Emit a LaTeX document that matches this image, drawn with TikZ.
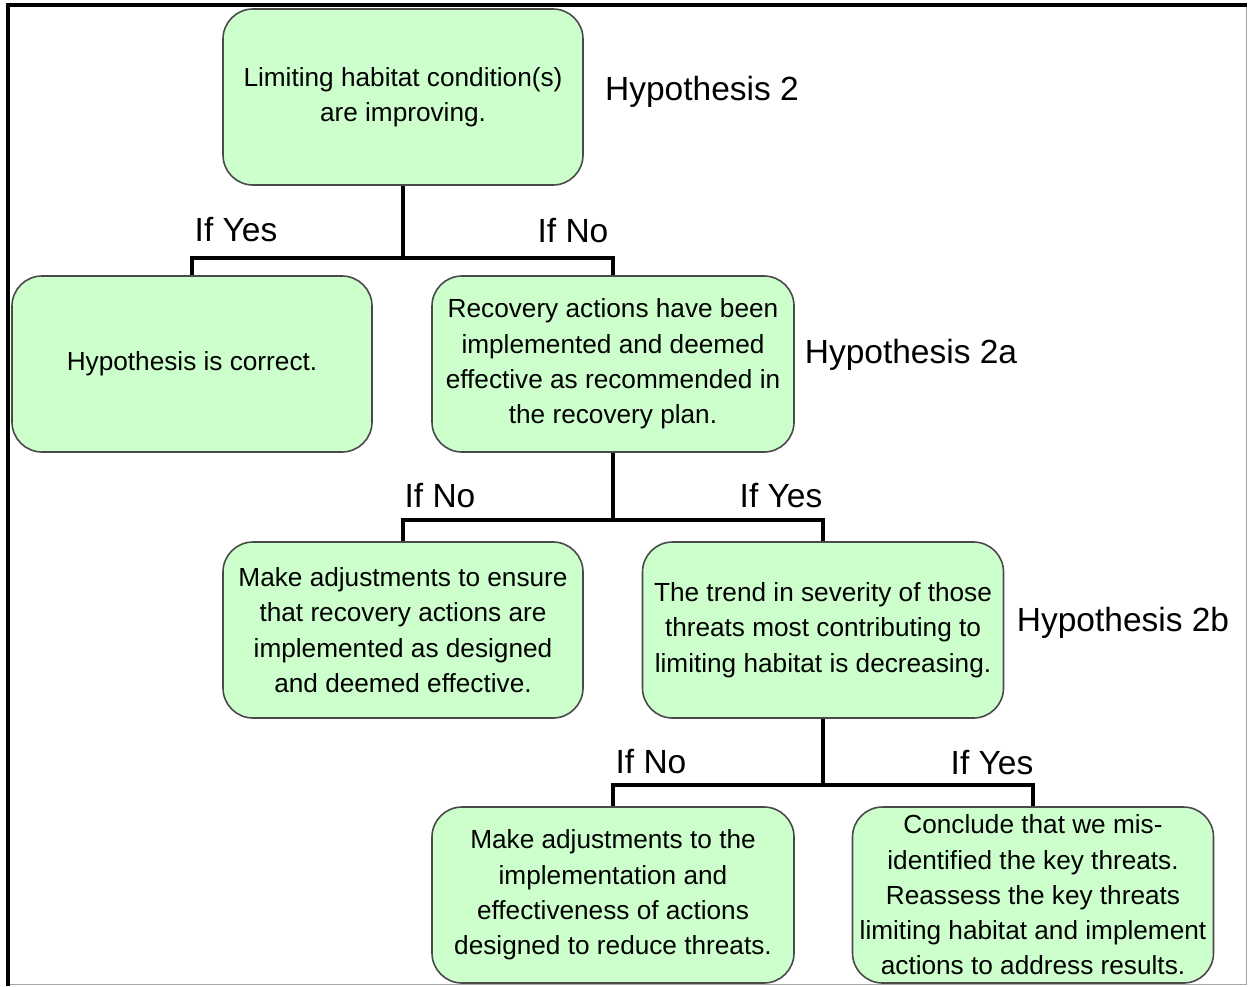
\documentclass[tikz,border=0pt]{standalone}
\usepackage{fontspec}
\setmainfont{Liberation Sans}
\definecolor{boxfill}{HTML}{CCFFCC}
\definecolor{boxdraw}{HTML}{4A4A4A}
\begin{document}
\begin{tikzpicture}[x=1pt,y=-1pt,
  box/.style={draw=boxdraw,fill=boxfill,line width=1.6pt,rounded corners=30pt,
    minimum width=360pt,minimum height=176pt,align=center,inner sep=0pt,
    font=\fontsize{26.2}{35.3}\selectfont},
  lbl/.style={font=\fontsize{33.5}{38}\selectfont,inner sep=0pt},
  conn/.style={line width=4pt,black,line join=miter}]
\useasboundingbox (0,0) rectangle (1249,986);
\fill[white] (0,0) rectangle (1249,986);
% frame
\draw[line width=1pt,gray!70] (1246,5) -- (1246,984) -- (8,984);
\draw[line width=3.5pt,black] (8,986) -- (8,5) -- (1247,5);
% boxes
\node[box] (b1) at (403,97) {Limiting habitat condition(s)\\are improving.};
\node[box] (b2) at (192,364) {Hypothesis is correct.};
\node[box,minimum width=362pt] (b3) at (613,364) {Recovery actions have been\\implemented and deemed\\effective as recommended in\\the recovery plan.};
\node[box] (b4) at (403,630) {Make adjustments to ensure\\that recovery actions are\\implemented as designed\\and deemed effective.};
\node[box,minimum width=361pt] (b5) at (823,630) {The trend in severity of those\\threats most contributing to\\limiting habitat is decreasing.};
\node[box,minimum width=362pt] (b6) at (613,895) {Make adjustments to the\\implementation and\\effectiveness of actions\\designed to reduce threats.};
\node[box,minimum width=361pt] (b7) at (1033,895) {Conclude that we mis-\\identified the key threats.\\Reassess the key threats\\limiting habitat and implement\\actions to address results.};
% hypothesis labels
\node[lbl] (h2) at (702,92) {Hypothesis 2};
\node[lbl] (h2a) at (911,355) {Hypothesis 2a};
\node[lbl] (h2b) at (1123,623) {Hypothesis 2b};
% junctions
\coordinate (j1) at (403,258);
\coordinate (j2) at (613,520);
\coordinate (j3) at (823,785);
\draw[conn] (b1.south) -- (j1);
\draw[conn] (b2.north) |- (j1) -| (b3.north);
\draw[conn] (b3.south) -- (j2);
\draw[conn] (b4.north) |- (j2) -| (b5.north);
\draw[conn] (b5.south) -- (j3);
\draw[conn] (b6.north) |- (j3) -| (b7.north);
% branch labels
\node[lbl] (y1) at (236,230) {If Yes};
\node[lbl] (n1) at (573,231) {If No};
\node[lbl] (n2) at (440,496) {If No};
\node[lbl] (y2) at (781,496) {If Yes};
\node[lbl] (n3) at (651,762) {If No};
\node[lbl] (y3) at (992,763) {If Yes};
\end{tikzpicture}
\end{document}
